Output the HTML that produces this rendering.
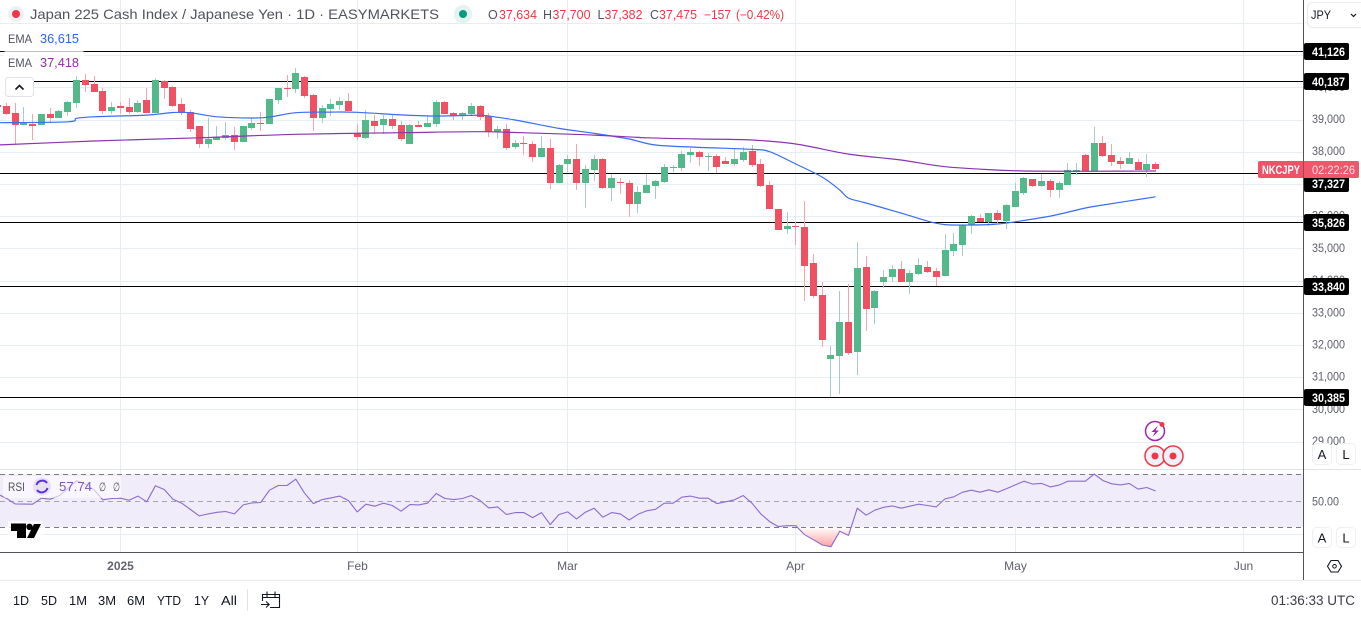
<!DOCTYPE html>
<html lang="en">
<head>
<meta charset="utf-8">
<title>Japan 225 Cash Index / Japanese Yen chart</title>
<style>
html,body{margin:0;padding:0;background:#fff;width:1361px;height:619px;overflow:hidden}
svg{display:block;font-family:"Liberation Sans",sans-serif}
</style>
</head>
<body>
<svg id="chart" xmlns="http://www.w3.org/2000/svg" width="1361" height="619" viewBox="0 0 1361 619">
  <defs>
    <linearGradient id="oversold-gradient" x1="0" y1="527" x2="0" y2="548" gradientUnits="userSpaceOnUse">
      <stop offset="0" stop-color="#ffffff"/>
      <stop offset="1" stop-color="#ff9c9c"/>
    </linearGradient>
    <clipPath id="oversold-clip"><rect x="0" y="528" width="1303" height="24"/></clipPath>
  </defs>
  <rect x="0" y="0" width="1361" height="619" fill="#ffffff"/>
  <g id="grid"></g>
  <g id="levels"></g>
  <g id="candles"></g>
  <g id="emas"></g>
  <g id="rsi"></g>

  <!-- frame lines -->
  <line x1="0" y1="469.5" x2="1361" y2="469.5" stroke="#e0e3eb"/>
  <line x1="0" y1="552.5" x2="1303" y2="552.5" stroke="#50535e"/>
  <line x1="1303.5" y1="0" x2="1303.5" y2="580" stroke="#50535e"/>
  <line x1="0" y1="580.5" x2="1361" y2="580.5" stroke="#e8eaee"/>

  <g id="axis-labels"></g>
  <g id="level-tags"></g>

  <!-- symbol price tag -->
  <g>
    <rect x="1258" y="161" width="101" height="17" rx="2" fill="#ef5166"/>
    <rect x="1304" y="161" width="55" height="17" rx="2" fill="#f1576c"/>
    <line x1="1303.5" y1="161" x2="1303.5" y2="178" stroke="#a8434f"/>
    <text x="1262" y="174" font-size="12" font-weight="700" fill="#ffffff" textLength="38" lengthAdjust="spacingAndGlyphs">NKCJPY</text>
    <text x="1312" y="174" font-size="12" fill="#ffe3e6" textLength="43" lengthAdjust="spacingAndGlyphs">02:22:26</text>
  </g>

  <!-- legend -->
  <g>
    <circle cx="16" cy="14" r="8" fill="#eef0f6"/>
    <circle cx="16" cy="14" r="4" fill="#f23645"/>
    <text x="30" y="19" font-size="14" fill="#50535e" textLength="409" lengthAdjust="spacingAndGlyphs">Japan 225 Cash Index / Japanese Yen · 1D · EASYMARKETS</text>
    <circle cx="463" cy="14" r="9" fill="#e3f3f0"/>
    <circle cx="463" cy="14" r="4" fill="#089981"/>
    <g font-size="12.5">
      <text x="488" y="19" fill="#50535e">O</text>
      <text x="499" y="19" fill="#f23645" textLength="38" lengthAdjust="spacingAndGlyphs">37,634</text>
      <text x="543" y="19" fill="#50535e">H</text>
      <text x="552.5" y="19" fill="#f23645" textLength="38" lengthAdjust="spacingAndGlyphs">37,700</text>
      <text x="597.5" y="19" fill="#50535e">L</text>
      <text x="604.5" y="19" fill="#f23645" textLength="38" lengthAdjust="spacingAndGlyphs">37,382</text>
      <text x="650" y="19" fill="#50535e">C</text>
      <text x="659" y="19" fill="#f23645" textLength="38" lengthAdjust="spacingAndGlyphs">37,475</text>
      <text x="704" y="19" fill="#f23645" textLength="27" lengthAdjust="spacingAndGlyphs">−157</text>
      <text x="736" y="19" fill="#f23645" textLength="48" lengthAdjust="spacingAndGlyphs">(−0.42%)</text>
    </g>
    <rect x="3" y="28" width="82" height="22" rx="3" fill="#ffffff" fill-opacity="0.75"/>
    <rect x="3" y="51" width="82" height="23" rx="3" fill="#ffffff" fill-opacity="0.75"/>
    <text x="8" y="43" font-size="12" fill="#50535e" textLength="24" lengthAdjust="spacingAndGlyphs">EMA</text>
    <text x="40" y="43" font-size="12.5" fill="#2962ff" textLength="39" lengthAdjust="spacingAndGlyphs">36,615</text>
    <text x="8" y="67" font-size="12" fill="#50535e" textLength="24" lengthAdjust="spacingAndGlyphs">EMA</text>
    <text x="40" y="67" font-size="12.5" fill="#9c27b0" textLength="39" lengthAdjust="spacingAndGlyphs">37,418</text>
    <rect x="0" y="75" width="5" height="24" fill="#ffffff"/>
    <g>
      <rect x="5.5" y="77.5" width="28" height="19" rx="3" fill="#ffffff" stroke="#e0e3eb"/>
      <path d="M15.5 89.5 L19.5 85.5 L23.5 89.5" fill="none" stroke="#131722" stroke-width="1.6"/>
    </g>
  </g>

  <!-- RSI legend & logo -->
  <g>
    <rect x="3" y="476" width="118" height="22" rx="3" fill="#ffffff" fill-opacity="0.6"/>
    <text x="8" y="491" font-size="12" fill="#50535e" textLength="17" lengthAdjust="spacingAndGlyphs">RSI</text>
    <circle cx="42" cy="486.5" r="9" fill="#e6e0f8"/>
    <path d="M36.5 485 A6 6 0 0 1 47 483 M47.5 488 A6 6 0 0 1 37 490" fill="none" stroke="#5b2fe0" stroke-width="2"/>
    <text x="59" y="491" font-size="12.5" fill="#7e57c2" textLength="33" lengthAdjust="spacingAndGlyphs">57.74</text>
    <text x="99" y="491" font-size="12" fill="#50535e" textLength="7" lengthAdjust="spacingAndGlyphs">∅</text>
    <text x="113" y="491" font-size="12" fill="#50535e" textLength="7" lengthAdjust="spacingAndGlyphs">∅</text>
  </g>
  <g>
    <rect x="8" y="521" width="35" height="19" fill="#ffffff" fill-opacity="0.75"/>
    <path d="M11 523.5 H26 V538 H17 V531 H11 Z" fill="#000000"/>
    <circle cx="29.5" cy="526.8" r="3.2" fill="#000000"/>
    <path d="M34 524 H41 L34 538 H27 Z" fill="#000000"/>
  </g>

  <!-- event markers -->
  <g>
    <g>
      <circle cx="1155" cy="431" r="9.5" fill="#ffffff" stroke="#9c27b0" stroke-width="1.5"/>
      <path d="M1158 425.5 L1151.5 432 H1155 L1152.5 437 L1159 430.5 H1155.5 Z" fill="#9c27b0"/>
      <circle cx="1162" cy="424.5" r="2.5" fill="#f23645"/>
    </g>
    <g>
      <circle cx="1155" cy="456" r="10" fill="#eef1f7" stroke="#f23645" stroke-width="1.5"/>
      <circle cx="1155" cy="456" r="3.5" fill="#f23645"/>
    </g>
    <g>
      <circle cx="1173" cy="456" r="10" fill="#eef1f7" stroke="#f23645" stroke-width="1.5"/>
      <circle cx="1173" cy="456" r="3.5" fill="#f23645"/>
    </g>
  </g>

  <!-- currency dropdown and scale buttons -->
  <g>
    <rect x="1307.5" y="2.5" width="60" height="25" rx="5" fill="#ffffff" stroke="#e8eaee"/>
    <text x="1311" y="19" font-size="12" fill="#131722" textLength="20" lengthAdjust="spacingAndGlyphs">JPY</text>
    <path d="M1351 14 L1353.5 16.5 L1356 14" fill="none" stroke="#131722" stroke-width="1.2"/>
  </g>
  <g font-size="13" fill="#131722" text-anchor="middle">
    <rect x="1312.5" y="443.5" width="19" height="21" rx="4" fill="#ffffff" stroke="#eef0f3"/>
    <text x="1322" y="459">A</text>
    <rect x="1336.5" y="443.5" width="19" height="21" rx="4" fill="#ffffff" stroke="#eef0f3"/>
    <text x="1346" y="459">L</text>
    <rect x="1312.5" y="527.5" width="19" height="20" rx="4" fill="#ffffff" stroke="#eef0f3"/>
    <text x="1322" y="542.5">A</text>
    <rect x="1336.5" y="527.5" width="19" height="20" rx="4" fill="#ffffff" stroke="#eef0f3"/>
    <text x="1346" y="542.5">L</text>
  </g>
  <g>
    <path d="M1327.5 566.3 L1331 560.5 H1338 L1341.5 566.3 L1338 572 H1331 Z" fill="none" stroke="#131722" stroke-width="1.1"/>
    <circle cx="1334.5" cy="566.3" r="1.8" fill="none" stroke="#131722"/>
  </g>

  <!-- bottom bar -->
  <g font-size="13" fill="#131722">
    <text x="13" y="605" textLength="16" lengthAdjust="spacingAndGlyphs">1D</text>
    <text x="41" y="605" textLength="16" lengthAdjust="spacingAndGlyphs">5D</text>
    <text x="69" y="605" textLength="18" lengthAdjust="spacingAndGlyphs">1M</text>
    <text x="98" y="605" textLength="18" lengthAdjust="spacingAndGlyphs">3M</text>
    <text x="127" y="605" textLength="18" lengthAdjust="spacingAndGlyphs">6M</text>
    <text x="157" y="605" textLength="24" lengthAdjust="spacingAndGlyphs">YTD</text>
    <text x="194" y="605" textLength="15" lengthAdjust="spacingAndGlyphs">1Y</text>
    <text x="221" y="605" textLength="16" lengthAdjust="spacingAndGlyphs">All</text>
  </g>
  <line x1="247.5" y1="589" x2="247.5" y2="611" stroke="#e0e3eb"/>
  <g fill="none" stroke="#131722" stroke-width="1.1">
    <path d="M262.5 601 V594.5 H279.5 V607.5 H270"/>
    <path d="M267 591.5 V597 M275 591.5 V597 M262.5 597.5 H279.5"/>
    <path d="M261 604.5 H269 M266 601.5 L269.2 604.5 L266 607.5"/>
  </g>
  <text x="1271" y="605" font-size="13.5" fill="#3a3d46" textLength="84" lengthAdjust="spacingAndGlyphs">01:36:33 UTC</text>
</svg>

<script>
// ---- chart data ----
const opens = [39465,39434,39216,38844,38875,38844,39185,39061,39247,39527,
40241,40117,39899,39278,39434,39403,39247,39620,39216,40210,
40024,39496,39247,38813,38254,38378,38440,38533,38316,38751,
38906,38875,39620,39993,39962,40334,39775,39061,39341,39465,
39589,38595,38440,38968,38844,39030,38844,38254,38844,38782,
38875,39558,39216,39123,39185,39434,39123,38626,38720,38161,
38285,38254,37850,38130,37043,37633,37788,37043,37447,37788,
36888,37074,37043,36391,36732,36950,37074,37509,37509,37912,
38005,37850,37881,37726,37633,37757,38036,37633,36981,36236,
35615,35708,35677,34559,33565,31578,31671,32727,31795,34435,
33162,33980,34124,34373,33969,34217,34435,34310,34155,34931,
35118,35739,35956,35832,36111,35863,36298,36732,37167,36950,
37105,36826,36981,37395,37912,37415,38285,37912,37726,37633,
37695,37446,37634];
const highs = [39537,39537,39516,39413,39185,39185,39382,39310,39599,40365,
40427,40365,39993,39558,39568,39682,39620,39993,40303,40241,
40055,39682,39310,38813,39061,38813,38937,38782,38813,39061,
39247,39651,39993,40396,40614,40365,39806,39465,39651,39713,
39837,38875,39310,39154,39154,39154,38968,38875,38968,39123,
39620,39589,39247,39247,39527,39465,39216,38813,38875,38378,
38502,38347,38502,38409,37633,37912,38254,37602,37912,37819,
37322,37198,37136,36950,37322,37136,37633,37602,38036,38130,
38036,37974,37943,37850,38130,38161,38223,37788,37105,36236,
36142,35832,36484,34838,33969,31982,33689,33907,35211,34776,
33721,34341,34497,34621,34341,34714,34621,34404,35459,35490,
35770,36049,36080,36111,36204,36391,37043,37229,37167,37322,
37167,37105,37664,37664,37943,38782,38502,38254,37850,38005,
37788,37943,37700];
const lows = [39361,39144,38223,38844,38378,38844,38895,39051,39123,39372,
39868,39868,39185,39185,39185,39185,39227,39216,39216,39651,
39413,39154,38626,38130,38130,38378,38378,38068,38316,38689,
38657,38875,39496,39713,39837,39682,38657,38906,39123,39310,
39278,38378,38409,38564,38564,38720,38347,38254,38782,38782,
38782,39185,38999,38999,39123,38999,38471,38409,38068,38099,
37912,37695,37850,36857,37043,37374,36826,36267,37105,36857,
36484,36701,35987,36111,36732,36546,37043,37384,37415,37664,
37571,37415,37353,37633,37571,37695,37540,36919,36236,35583,
35459,35118,33379,33472,31951,30388,30491,31702,31081,32447,
32665,33783,33969,33969,33596,34186,34248,33845,34155,34776,
34776,35459,35832,35708,35801,35615,36298,36670,36919,36919,
36608,36577,36981,37291,37415,37415,37850,37571,37478,37633,
37446,37229,37382];
const closes = [39413,39185,38844,38895,38813,39185,39061,39278,39558,40241,
40086,39868,39278,39403,39372,39247,39527,39216,40241,39993,
39434,39216,38720,38254,38409,38461,38533,38316,38813,38906,
38875,39651,39993,39962,40458,39744,39061,39372,39496,39589,
39278,38471,38999,38813,39030,38813,38409,38844,38782,38906,
39558,39185,39123,39216,39434,39092,38626,38720,38130,38285,
38254,37850,38130,37043,37602,37788,37043,37478,37788,36888,
37198,37043,36391,36763,36981,37105,37540,37540,37943,38005,
37850,37881,37540,37633,37788,38005,37602,36950,36236,35583,
35708,35687,34466,33534,32168,31702,32727,31764,34404,33131,
33689,34124,34373,33969,34248,34497,34279,34124,34962,35149,
35739,36018,35832,36111,35894,36360,36794,37198,36950,37105,
36826,37043,37446,37446,37415,38285,37881,37695,37633,37819,
37446,37633,37475];
const rsiValues = [55.4,52.35,48.06,47.9,47.8,52.35,51.6,54.1,59.4,65.5,
63,58.7,51.1,52.1,52.35,50.8,53.9,49.6,61.7,58.9,
51.6,48.6,43.8,39,40.5,41.7,42.3,40.5,47.3,48.8,
49.1,58.4,61.9,61.9,66.7,56.1,48.3,51.3,52.6,53.9,
50.6,42,47.8,46.3,48.6,46.8,42.5,47.5,47.3,48.6,
55.9,52.1,51.3,52.1,54.4,50.6,45,45.8,40,41.5,
41.5,37.7,41.5,32.4,40,42,36.7,41.7,44.8,38,
41.5,40.5,35.9,40.2,42.8,44,48.6,48.6,53.1,53.9,
52.35,52.35,48.3,49.6,51.1,54.4,48.6,40.5,34.7,30.9,
31.6,31.6,24.8,21,17,15.7,27.35,24.3,44.8,39.5,
43.3,45.5,46.5,44.8,46.3,47.8,46.8,45.8,51.8,53.4,
56.9,58.4,56.9,58.7,56.9,59.4,62.4,65.2,63,63.5,
60.9,62.2,65.2,65.2,65.2,70.5,65.7,63.2,62.4,63.5,
59.2,60.4,57.74];
const emaShortBars = [0,8,9,11,17,20,22,25,29,31,34,38,41,46,50,55,57,59,64,68,72,75,80,86,88,91,94,96,97,99,103,106,108,111,114,116,120,124,126,132];
const emaShortValues = [38915,38946,39052,39101,39154,39232,39226,39101,39061,39092,39226,39247,39238,39160,39123,39145,39083,39000,38741,38586,38409,38223,38151,38089,38015,37633,37229,36826,36577,36422,36111,35863,35754,35739,35770,35841,36018,36267,36360,36615];
const emaLongBars = [0,11,23,34,46,55,62,68,74,80,86,91,97,103,108,114,118,124,132];
const emaLongValues = [38223,38347,38449,38555,38605,38636,38586,38533,38449,38409,38378,38254,37943,37757,37549,37446,37415,37409,37418];
const levelValues = [41126,40187,37327,35826,33840,30385];
const priceTicks = [42000,41000,40000,39000,38000,37000,36000,35000,34000,33000,32000,31000,30000,29000];
const monthLabels = ['2025','Feb','Mar','Apr','May','Jun'];
const monthBars = [14,41,65,91,116,142];
const rsiLevels = [70,50,30];
const rsiTicks = [50];
const lastPrice = 37475;

// ---- axis functions ----
const NS = 'http://www.w3.org/2000/svg';
function xOf(i){ return -2.47 + 8.773 * i; }
function yOf(p){ return 397.5 - (p - 30385) * 0.03221; }
function yRsi(r){ return 501.3 + (50 - r) * 1.325; }
function fmt(p){ return String(p).replace(/(\d)(\d{3})$/, '$1,$2'); }
function make(tag, parent, attrs){
  const el = document.createElementNS(NS, tag);
  for (const k in attrs) el.setAttribute(k, attrs[k]);
  parent.appendChild(el);
  return el;
}
const gGrid = document.getElementById('grid');
const gLevels = document.getElementById('levels');
const gCandles = document.getElementById('candles');
const gEmas = document.getElementById('emas');
const gRsi = document.getElementById('rsi');
const gAxis = document.getElementById('axis-labels');
const gTags = document.getElementById('level-tags');
const GRID = '#e6edf3';

// horizontal grid
priceTicks.forEach(function(p){
  const y = Math.floor(yOf(p)) + 0.5;
  const el = make('line', gGrid, {x1:0, x2:1303, y1:y, y2:y, stroke:GRID});
  
  
});
// RSI pane horizontal grid line
(function(){
  const y = Math.floor(yRsi(25)) + 0.5;
  const el = make('line', gGrid, {x1:0, x2:1303, y1:y, y2:y, stroke:GRID});
  
  
})();
// vertical grid + month labels
monthBars.forEach(function(b, k){
  const x = Math.floor(xOf(b)) + 0.5;
  const el = make('line', gGrid, {x1:x, x2:x, y1:0, y2:552, stroke:GRID});
  
  
  const t = make('text', gAxis, {x:x, y:570, 'font-size':12, fill: k === 0 ? '#62656f' : '#5d606b', 'text-anchor':'middle'});
  
  
  if (k === 0) t.setAttribute('font-weight', '700');
  t.textContent = monthLabels[k];
});

// horizontal black levels (behind candles)
levelValues.forEach(function(v){
  const y = Math.floor(yOf(v)) + 0.5;
  const el = make('line', gLevels, {x1:0, x2:1303, y1:y, y2:y, stroke:'#000000'});
  
  
});

// candles
closes.forEach(function(c, i){
  const up = c >= opens[i];
  const cx = Math.floor(xOf(i));
  const g = make('g', gCandles, {});
  
  
  const yh = Math.round(yOf(highs[i]));
  const yl = Math.round(yOf(lows[i]));
  const wick = make('rect', g, {x:cx, y:yh, width:1, height:Math.max(1, yl - yh), fill: up ? '#a6cbc9' : '#f9a3ae'});
  
  
  const top = Math.round(yOf(Math.max(c, opens[i])));
  const bot = Math.round(yOf(Math.min(c, opens[i])));
  const body = make('rect', g, {x:cx - 3, y:top, width:7, height:Math.max(1, bot - top), fill: up ? '#53b98a' : '#ef5162'});
  
  
});

// EMAs: smooth path through the sampled values
function emaPath(bars, vals){
  const pts = bars.map(function(b, k){ return [xOf(b), yOf(vals[k])]; });
  let d = 'M' + pts[0][0].toFixed(1) + ' ' + pts[0][1].toFixed(1);
  for (let k = 0; k < pts.length - 1; k++){
    const p0 = pts[Math.max(0, k - 1)], p1 = pts[k], p2 = pts[k + 1], p3 = pts[Math.min(pts.length - 1, k + 2)];
    const c1x = p1[0] + (p2[0] - p0[0]) / 6, c1y = p1[1] + (p2[1] - p0[1]) / 6;
    const c2x = p2[0] - (p3[0] - p1[0]) / 6, c2y = p2[1] - (p3[1] - p1[1]) / 6;
    d += 'C' + c1x.toFixed(1) + ' ' + c1y.toFixed(1) + ' ' + c2x.toFixed(1) + ' ' + c2y.toFixed(1) + ' ' + p2[0].toFixed(1) + ' ' + p2[1].toFixed(1);
  }
  return d;
}
const emaShortLine = make('path', gEmas, {d: emaPath(emaShortBars, emaShortValues), fill:'none', stroke:'#3a6cf4', 'stroke-width':1.2});


const emaLongLine = make('path', gEmas, {d: emaPath(emaLongBars, emaLongValues), fill:'none', stroke:'#8a35b0', 'stroke-width':1.2});



// RSI pane
const bandTop = Math.floor(yRsi(rsiLevels[0]));
const bandBot = Math.floor(yRsi(rsiLevels[2]));
const band = make('rect', gRsi, {x:0, y:bandTop, width:1303, height:bandBot - bandTop, fill:'#f0ecf9'});


rsiLevels.forEach(function(r, k){
  const y = Math.floor(yRsi(r)) + 0.5;
  const el = make('line', gRsi, {x1:0, x2:1303, y1:y, y2:y, stroke: k === 1 ? '#a3a6af' : '#787b86', 'stroke-dasharray':'5 4'});
  
  
});
const yBase = yRsi(rsiLevels[2]);
const fillPts = rsiValues.map(function(r, i){ return xOf(i).toFixed(1) + ',' + yRsi(r).toFixed(1); });
const oversold = make('polygon', gRsi, {
  points: xOf(0).toFixed(1) + ',' + yBase + ' ' + fillPts.join(' ') + ' ' + xOf(rsiValues.length - 1).toFixed(1) + ',' + yBase,
  fill:'url(#oversold-gradient)', 'clip-path':'url(#oversold-clip)'
});


const rsiLine = make('polyline', gRsi, {points: fillPts.join(' '), fill:'none', stroke:'#8a6ccf', 'stroke-width':1.1, 'stroke-linejoin':'round'});


rsiTicks.forEach(function(r){
  const t = make('text', gAxis, {x:1312, y:yRsi(r) + 4, 'font-size':12, fill:'#5d606b', textLength:27, lengthAdjust:'spacingAndGlyphs'});
  
  
  t.textContent = r.toFixed(2);
});

// price tick labels
priceTicks.forEach(function(p){
  const t = make('text', gAxis, {x:1312, y:yOf(p) + 3, 'font-size':12, fill:'#5d606b', textLength:33, lengthAdjust:'spacingAndGlyphs'});
  
  
  t.textContent = fmt(p);
});

// level tags
const tagY = yOf(lastPrice);
levelValues.forEach(function(v){
  let y = yOf(v);
  if (y > tagY - 8 && y < tagY + 15) y = tagY + 14.7;
  const top = Math.round(y - 8.5);
  const box = make('rect', gTags, {x:1304, y:top, width:45, height:17, rx:2, fill:'#000000'});
  
  
  const t = make('text', gTags, {x:1312, y:top + 13, 'font-size':12, 'font-weight':700, fill:'#ffffff', textLength:33, lengthAdjust:'spacingAndGlyphs'});
  
  
  t.textContent = fmt(v);
});
</script>
</body>
</html>
